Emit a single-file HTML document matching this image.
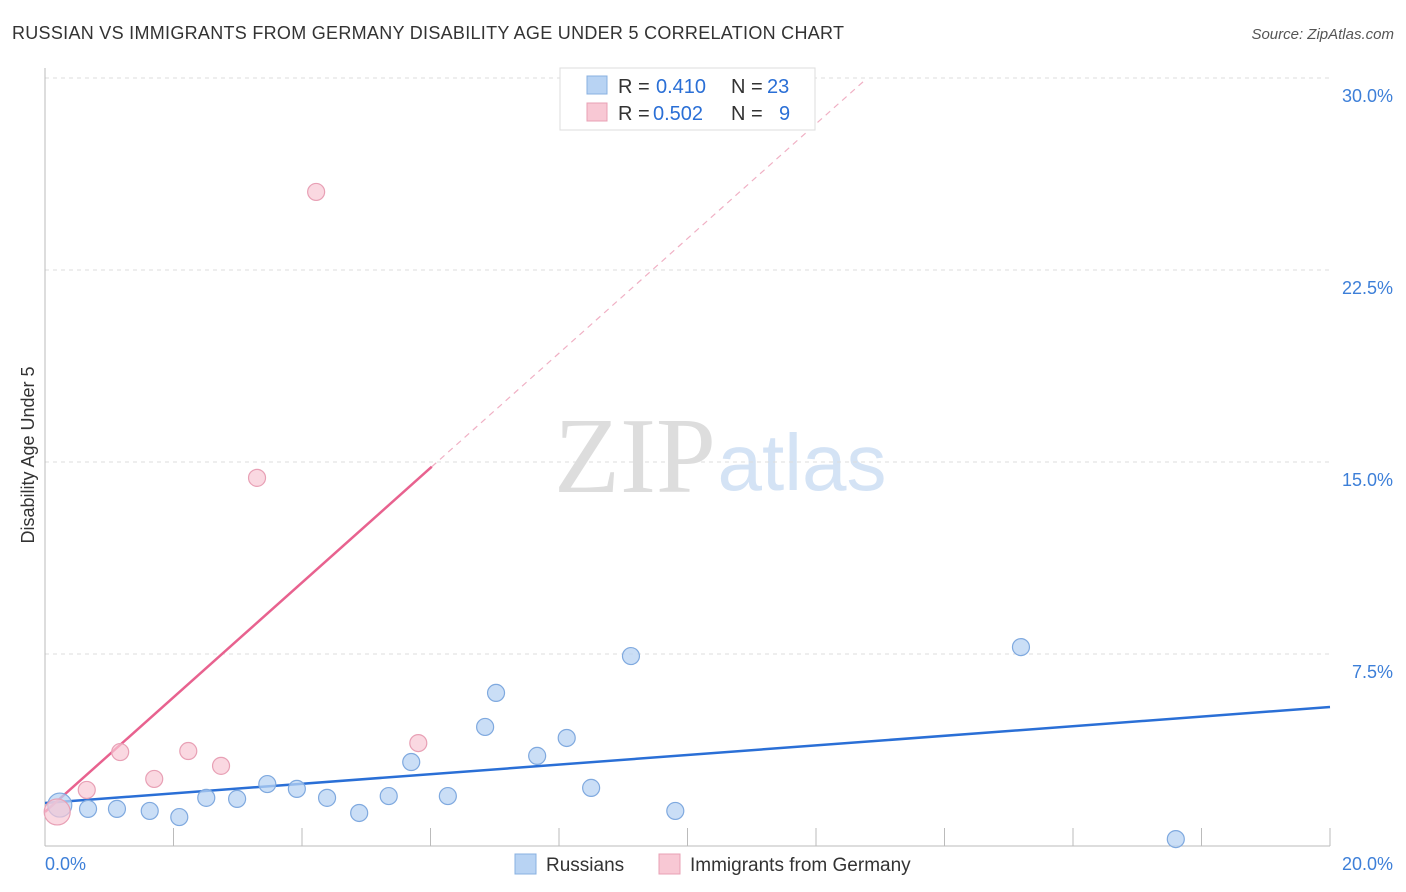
<!DOCTYPE html>
<html><head><meta charset="utf-8"><style>
body{margin:0;background:#fff;font-family:"Liberation Sans",sans-serif;}
svg{display:block}
</style></head><body>
<svg id="c" width="1406" height="892">
<text x="12" y="39" font-size="18" fill="#333" textLength="832">RUSSIAN VS IMMIGRANTS FROM GERMANY DISABILITY AGE UNDER 5 CORRELATION CHART</text>
<text x="1394" y="39" font-size="15" fill="#555" text-anchor="end" font-style="italic">Source: ZipAtlas.com</text>
<text x="34" y="455" font-size="18" fill="#333" text-anchor="middle" transform="rotate(-90 34 455)">Disability Age Under 5</text>
<g><text x="635" y="492" font-size="108" fill="#ddd" text-anchor="middle" font-family="Liberation Serif,serif">ZIP</text><text x="802" y="490" font-size="80" fill="#d4e3f5" text-anchor="middle">atlas</text></g>
<g id="grid"></g><g id="axes"></g><g id="lines"></g><g id="pts"></g>
<g>
<rect x="560" y="68" width="255" height="62" fill="#fff" stroke="#ddd"/>
<rect x="587" y="76" width="20" height="18" fill="#b8d3f3" stroke="#88b0e0"/>
<text x="618" y="93" font-size="20" fill="#333">R =</text><text x="656" y="93" font-size="20" fill="#2a6fd6">0.410</text>
<text x="731" y="93" font-size="20" fill="#333">N =</text><text x="767" y="93" font-size="20" fill="#2a6fd6">23</text>
<rect x="587" y="103" width="20" height="18" fill="#f8c8d4" stroke="#e8a0b5"/>
<text x="618" y="120" font-size="20" fill="#333">R =</text><text x="653" y="120" font-size="20" fill="#2a6fd6">0.502</text>
<text x="731" y="120" font-size="20" fill="#333">N =</text><text x="779" y="120" font-size="20" fill="#2a6fd6">9</text>
</g>
<g>
<rect x="515" y="854" width="21" height="20" fill="#b8d3f3" stroke="#88b0e0"/>
<text x="546" y="871" font-size="19" fill="#333">Russians</text>
<rect x="659" y="854" width="21" height="20" fill="#f8c8d4" stroke="#e8a0b5"/>
<text x="690" y="871" font-size="19" fill="#333">Immigrants from Germany</text>
</g>
</svg>
<script>
const russiansX=[0.23,0.67,1.12,1.63,2.09,2.51,2.99,3.46,3.92,4.39,4.89,5.35,5.70,6.27,6.85,7.02,7.66,8.12,8.50,9.12,9.81,15.19,17.60];
const russiansY=[1.60,1.45,1.45,1.37,1.13,1.88,1.84,2.42,2.23,1.88,1.29,1.95,3.28,1.95,4.65,5.98,3.52,4.22,2.27,7.42,1.37,7.77,0.27];
const germanyX=[0.19,0.65,1.17,1.70,2.23,2.74,3.30,4.22,5.81];
const germanyY=[1.33,2.19,3.67,2.62,3.71,3.13,14.38,25.55,4.02];
const russiansTrend=[1.68,0.1875];
const germanyTrend=[1.33,2.24];
const yTicks=[7.5,15.0,22.5,30.0];
const yTickLabels=["7.5%","15.0%","22.5%","30.0%"];
const xTicks=[0,2,4,6,8,10,12,14,16,18,20];
const NS="http://www.w3.org/2000/svg";
const X=v=>45+v/20*1285, Y=v=>846-v/7.5*192;
function mk(t,a,p){const e=document.createElementNS(NS,t);for(const k in a)e.setAttribute(k,a[k]);document.getElementById(p).appendChild(e);return e;}
yTicks.forEach((t,i)=>{
 const g=mk('line',{x1:45,x2:1330,y1:Y(t),y2:Y(t),stroke:'#ddd','stroke-dasharray':'4,4'},'grid');
 
 
 const l=mk('text',{x:1393,y:Y(t)+24,'font-size':18,fill:'#3d7fd8','text-anchor':'end'},'axes');l.textContent=yTickLabels[i];
 
 
});
const ax=mk('line',{x1:45,x2:45,y1:68,y2:846,stroke:'#bbb'},'axes');


const bx=mk('line',{x1:45,x2:1330,y1:846,y2:846,stroke:'#bbb'},'axes');


xTicks.forEach(t=>{const e=mk('line',{x1:X(t),x2:X(t),y1:828,y2:846,stroke:'#bbb'},'axes');
 
 });
const x0=mk('text',{x:45,y:870,'font-size':18,fill:'#3d7fd8'},'axes');x0.textContent='0.0%';


const x1=mk('text',{x:1393,y:870,'font-size':18,fill:'#3d7fd8','text-anchor':'end'},'axes');x1.textContent='20.0%';


const rl=mk('line',{x1:X(0),y1:Y(russiansTrend[0]),x2:X(20),y2:Y(russiansTrend[0]+20*russiansTrend[1]),stroke:'#2a6fd6','stroke-width':2.5},'lines');


const gx1=6.02,gx2=12.76;
const gl=mk('line',{x1:X(0),y1:Y(germanyTrend[0]),x2:X(gx1),y2:Y(germanyTrend[0]+gx1*germanyTrend[1]),stroke:'#e8628f','stroke-width':2.5},'lines');


const gd=mk('line',{x1:X(gx1),y1:Y(germanyTrend[0]+gx1*germanyTrend[1]),x2:X(gx2),y2:Y(germanyTrend[0]+gx2*germanyTrend[1]),stroke:'#f0b0c4','stroke-width':1.2,'stroke-dasharray':'6,5'},'lines');


russiansX.forEach((v,i)=>{const c=mk('circle',{cx:X(v),cy:Y(russiansY[i]),r:i==0?12:8.5,fill:'#b8d3f3','fill-opacity':0.75,stroke:'#7fa9df','stroke-width':1.2},'pts');
 
 });
germanyX.forEach((v,i)=>{const c=mk('circle',{cx:X(v),cy:Y(germanyY[i]),r:i==0?13:8.5,fill:'#f8c8d4','fill-opacity':0.7,stroke:'#e8a0b5','stroke-width':1.2},'pts');
 
 });
</script>
</body></html>
